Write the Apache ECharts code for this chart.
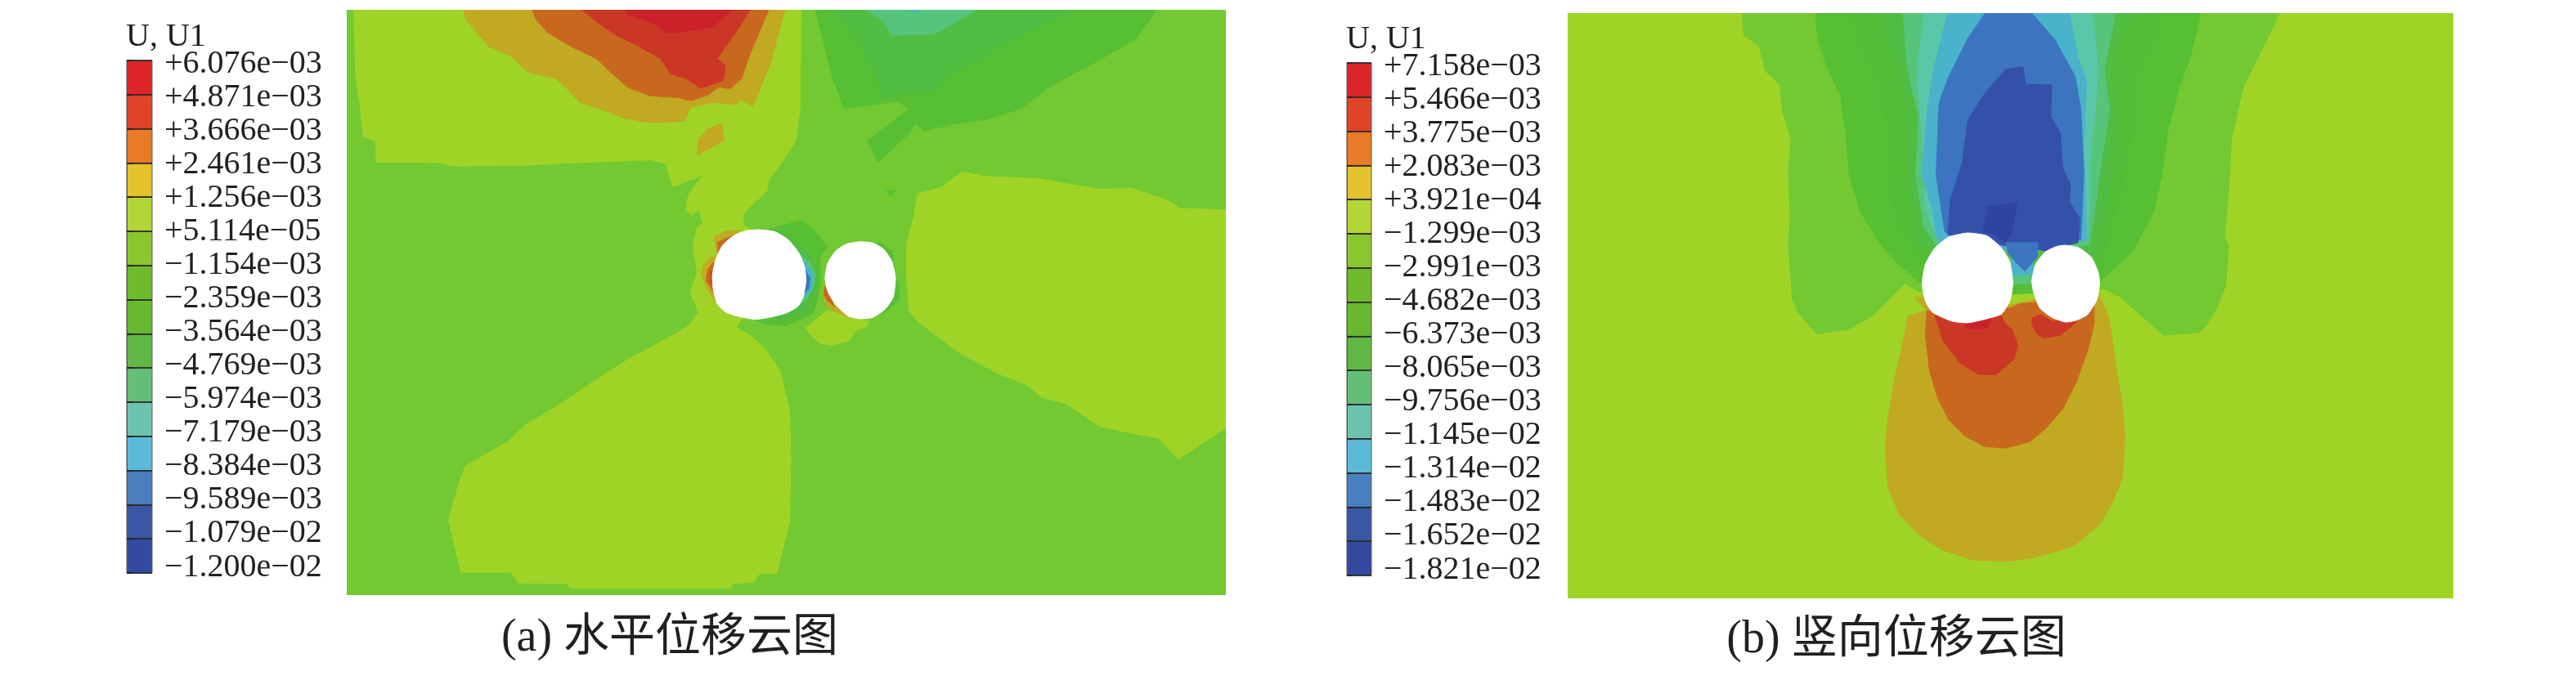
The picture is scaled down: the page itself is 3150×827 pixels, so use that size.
<!DOCTYPE html>
<html>
<head>
<meta charset="utf-8">
<style>html,body{margin:0;padding:0;background:#fff}#c{width:3150px;height:827px}</style>
<script src="https://cdn.jsdelivr.net/npm/echarts@6/dist/echarts.min.js"></script>
</head>
<body>
<div id="c"></div>
<script>
// Legend data
const LEGEND_TITLE = 'U, U1';
const CAPTION_A = '(a) 水平位移云图';
const CAPTION_B = '(b) 竖向位移云图';
const LABELS_A = ['+6.076e−03','+4.871e−03','+3.666e−03','+2.461e−03','+1.256e−03','+5.114e−05','−1.154e−03','−2.359e−03','−3.564e−03','−4.769e−03','−5.974e−03','−7.179e−03','−8.384e−03','−9.589e−03','−1.079e−02','−1.200e−02'];
const LABELS_B = ['+7.158e−03','+5.466e−03','+3.775e−03','+2.083e−03','+3.921e−04','−1.299e−03','−2.991e−03','−4.682e−03','−6.373e−03','−8.065e−03','−9.756e−03','−1.145e−02','−1.314e−02','−1.483e−02','−1.652e−02','−1.821e−02'];
const LEGEND_COLORS = ['#DC2529','#E04328','#E87A28','#E3C22B','#B2D635','#8AC62E','#6EBB2E','#68B92F','#60B745','#65BE78','#6DC3AE','#5BBBD6','#4A7FBE','#3A57A4','#324AA0'];

// Contour band colours
const RED2='#CB222A',RED='#CB3727',ORG='#C8681E',TAN='#C2A922',LIME='#9FD427',G1='#72C932',G2='#56BF34',G3='#50BC42',G4='#56C47A',AQUA='#5AC8A8',CYAN='#4AB3CC',BLUE='#3D74C0',NAVY='#3450AB',NAVY2='#2E44A0',HOLE='#FFFFFF';

// Reading frames of the contour outlines
const a4 = pts => pts.map(([x,y]) => [518.4+0.48*x, 720+y]);
const a3 = pts => pts.map(([x,y]) => [x, y+1080]);
const b7 = pts => pts.map(([x,y]) => [423+0.47*x, 720+y]);

const PANEL_A = [
 [LIME,[[18,36],[805,36],[803,400],[795,520],[770,600],[748,660],[745,700],[715,760],[702,790],[705,830],[720,845],[730,900],[730,1100],[700,1175],[690,1200],[715,1230],[740,1275],[768,1360],[785,1510],[787,1680],[785,1910],[762,2105],[732,2105],[722,2138],[685,2140],[682,2158],[398,2158],[395,2142],[308,2140],[295,2100],[207,2100],[185,1910],[205,1760],[215,1710],[290,1620],[320,1560],[380,1485],[440,1400],[500,1320],[580,1230],[610,1190],[625,1145],[610,1075],[622,1000],[615,900],[622,835],[632,820],[625,770],[612,790],[602,770],[605,730],[615,690],[635,640],[580,685],[572,640],[568,600],[540,587],[400,598],[310,608],[190,610],[170,597],[58,595],[57,520],[35,500],[30,400],[22,280]]],
 [LIME,a3([[850,60],[830,95],[813,125],[820,145],[838,180],[860,187],[890,170],[900,135],[920,120],[925,100],[905,90],[855,60]])],
 [LIME,[[1088,630],[1050,690],[1010,710],[1003,800],[990,900],[990,1000],[995,1140],[1010,1180],[1080,1290],[1150,1370],[1200,1410],[1230,1460],[1270,1480],[1330,1565],[1435,1610],[1468,1685],[1552,1570],[1552,770],[1470,765],[1450,735],[1385,690],[1330,695],[1220,655],[1130,648]]],
 [TAN,[[212,36],[777,36],[750,240],[720,390],[700,365],[690,385],[655,375],[610,395],[600,445],[540,450],[495,435],[465,410],[415,375],[400,340],[375,290],[325,265],[295,205],[255,170],[235,120],[215,70]]],
 [ORG,[[332,36],[748,36],[715,200],[700,290],[680,325],[660,320],[640,350],[610,370],[590,358],[540,352],[500,320],[470,265],[445,215],[400,170],[360,120],[340,75]]],
 [RED,[[420,36],[715,36],[690,120],[657,215],[672,240],[668,295],[628,325],[605,290],[575,270],[558,215],[515,165],[480,130],[445,80]]],
 [RED2,[[497,36],[683,36],[650,100],[605,115],[570,122],[545,85],[500,55]]],
 [TAN,[[665,450],[670,515],[622,570],[625,510],[640,475]]],
 [G2,[[830,36],[1430,36],[1395,140],[1330,220],[1240,320],[1190,400],[1130,438],[1075,455],[1020,480],[1005,450],[1000,480],[940,595],[922,515],[995,400],[975,372],[880,398],[860,280],[845,160]]],
 [G3,[[860,36],[1290,36],[1230,90],[1130,200],[1060,280],[1040,340],[1000,335],[950,355],[930,250],[895,120]]],
 [G4,[[920,36],[1115,36],[1040,125],[965,130],[950,80]]],
 [CYAN,[[995,36],[1012,36],[1005,44]]],
 [G2,[[955,700],[972,700],[962,722]]],
 [G2,a4([[470,125],[540,105],[600,90],[640,120],[695,185],[665,225],[670,300],[660,370],[640,430],[600,450],[540,475],[470,470],[430,455],[500,400],[560,300],[540,200]])],
 [G2,a4([[880,165],[930,200],[945,300],[958,330],[955,380],[920,415],[880,435],[870,300]])],
 [G3,a4([[550,160],[600,190],[640,230],[655,290],[650,340],[620,410],[580,440],[500,455],[560,300]])],
 [G4,a4([[590,210],[630,245],[650,290],[640,340],[615,380],[590,400],[610,300]])],
 [CYAN,a4([[600,230],[640,280],[635,340],[612,370],[610,300]])],
 [BLUE,a4([[612,270],[630,300],[625,340],[610,355]])],
 [TAN,a4([[280,150],[320,128],[370,125],[300,220],[265,225],[240,250],[232,285],[250,335],[285,390],[300,300]])],
 [ORG,a4([[290,170],[345,145],[310,190],[295,210]])],
 [ORG,a4([[255,270],[278,240],[280,360],[250,310]])],
 [RED,a4([[266,280],[275,270],[275,325],[268,320]])],
 [TAN,a4([[683,320],[700,330],[765,442],[730,428],[695,405],[678,370]])],
 [ORG,a4([[685,330],[695,350],[720,405],[695,385],[680,360]])],
 [HOLE,a4([[443,123],[500,130],[550,160],[590,210],[610,260],[615,310],[605,370],[585,405],[540,430],[480,445],[430,452],[370,442],[320,425],[290,395],[275,340],[272,290],[285,230],[310,180],[350,145],[395,127]])],
 [HOLE,a4([[814,167],[860,172],[900,195],[930,240],[943,300],[935,370],[905,415],[860,445],[814,450],[770,440],[725,400],[695,350],[685,300],[695,245],[725,200],[765,175]])]
];

const PANEL_B = [
 [G1,[[325,48],[1253,48],[1225,170],[1190,320],[1170,510],[1165,700],[1158,870],[1165,900],[1160,1050],[1145,1130],[1128,1190],b7([[1500,470]])[0],b7([[1470,500]])[0],b7([[1340,510]])[0],b7([[1260,440]])[0],b7([[1180,370]])[0],b7([[1120,340]])[0],b7([[440,350]])[0],b7([[390,320]])[0],b7([[330,380]])[0],b7([[270,440]])[0],b7([[180,490]])[0],b7([[65,505]])[0],b7([[0,430]])[0],[412,1100],[405,900],[408,800],[405,620],[410,510],[395,410],[390,310],[365,260],[355,170],[328,130]]],
 [G2,[[452,48],[1117,48],[1100,200],[1080,320],[1060,480],[1050,640],[1035,780],[1000,920],[960,1000],[945,1030],[800,1040],[635,1040],[600,980],[565,900],[530,780],[510,640],[505,500],[495,350],[475,260],[462,190],[455,130]]],
 ['#53BD38',[[515,48],[1050,48],[1040,140],[1005,290],[1000,480],[985,640],[980,700],[960,860],[945,960],[800,1000],[645,990],[625,920],[590,800],[575,640],[578,500],[560,300],[530,180]]],
 [G3,[[563,48],[1003,48],[975,140],[965,260],[970,450],[965,640],[945,860],[935,940],[800,960],[655,920],[618,870],[620,780],[612,640],[612,480],[600,280],[570,120]]],
 [G4,[[603,48],[970,48],[965,100],[950,260],[960,400],[945,600],[935,760],[925,900],[800,930],[660,900],[640,840],[635,780],[625,640],[630,430],[610,250]]],
 [AQUA,[[640,48],[930,48],[935,150],[940,260],[935,400],[925,600],[925,760],[920,880],[800,920],[665,890],[655,840],[640,760],[640,640],[635,480],[628,300],[630,200]]],
 [CYAN,[[680,48],[890,48],[895,100],[905,210],[920,300],[915,540],[918,700],[920,880],[800,920],[668,900],[660,860],[655,780],[635,640],[645,400],[655,260]]],
 [BLUE,[[745,48],[825,48],[865,145],[900,280],[910,400],[915,640],[910,880],[800,900],[690,870],[675,850],[660,640],[665,380],[680,290],[715,140]]],
 [NAVY,[[810,245],[815,310],[860,312],[858,425],[875,490],[878,610],[892,680],[890,740],[908,800],[905,890],[850,920],[700,880],[680,860],[685,730],[705,600],[715,440],[745,340],[780,255]]],
 [NAVY2,[[750,760],[800,745],[790,860],[780,890],[760,860],[740,850]]],
 [LIME,b7([[785,360],[860,355],[860,385],[785,390]])],
 [G2,b7([[785,325],[860,320],[860,355],[785,360]])],
 [G4,b7([[785,290],[860,285],[860,320],[785,325]])],
 [CYAN,b7([[780,230],[860,230],[860,285],[785,290]])],
 [BLUE,b7([[760,170],[880,170],[875,225],[830,275],[800,245],[770,210]])],
 [TAN,b7([[425,370],[470,420],[400,440],[395,480],[350,680],[325,830],[318,930],[328,1070],[370,1170],[450,1250],[530,1300],[640,1335],[760,1340],[850,1330],[960,1300],[1010,1285],[1100,1210],[1150,1130],[1190,1030],[1198,880],[1190,780],[1165,620],[1140,450],[1110,375],[1085,350],[1000,380],[860,380],[780,400]])],
 [ORG,b7([[470,420],[465,510],[480,640],[510,740],[550,820],[610,880],[680,918],[760,925],[850,900],[910,850],[970,780],[1020,680],[1060,570],[1085,470],[1085,400],[870,390],[810,395],[780,410]])],
 [RED,b7([[500,440],[530,530],[590,610],[660,655],[725,655],[790,600],[805,545],[790,510],[785,490],[760,470],[745,440],[600,450]])],
 [RED2,b7([[600,465],[625,488],[690,485],[710,450]])],
 [RED,b7([[860,445],[855,465],[870,500],[900,522],[960,510],[1000,480],[1030,450],[930,460],[890,435]])],
 [HOLE,b7([[620,135],[690,145],[740,185],[775,240],[786,320],[775,385],[745,432],[690,450],[620,465],[560,458],[490,425],[465,385],[453,320],[465,250],[500,190],[550,150]])],
 [HOLE,b7([[980,180],[1030,190],[1075,225],[1100,280],[1105,320],[1095,380],[1060,435],[1020,455],[980,462],[930,445],[885,410],[862,350],[856,310],[870,250],[905,205],[945,185]])]
];

const SERIF = '"Liberation Serif","Noto Sans CJK SC",serif';
const INK = '#231F20';

function contourSeries(polys, xi, yi){
  return {
    type:'custom', xAxisIndex:xi, yAxisIndex:yi, silent:true, animation:false, clip:true,
    data:polys.map(p=>p[1][0]),
    renderItem:(params,api)=>{
      const [fill,pts]=polys[params.dataIndex];
      return {type:'polygon',shape:{points:pts.map(p=>api.coord(p)),smooth:fill===HOLE?0.18:0},style:{fill,stroke:fill,lineWidth:1}};
    }
  };
}
function legendSeries(xi, yi){
  return {
    type:'custom', xAxisIndex:xi, yAxisIndex:yi, silent:true, animation:false, z:1,
    data:LEGEND_COLORS.map((c,i)=>[0,15-i]),
    renderItem:(params,api)=>{
      const top=api.coord([0,15-params.dataIndex]);
      const bot=api.coord([1,14-params.dataIndex]);
      return {type:'rect',shape:{x:top[0],y:top[1],width:bot[0]-top[0],height:bot[1]-top[1]},style:{fill:LEGEND_COLORS[params.dataIndex],stroke:'#5A5A5A',lineWidth:1}};
    }
  };
}
function legendTickAxis(grid){
  return {gridIndex:grid,type:'value',min:0,max:15,interval:1,position:'right',z:4,
    axisLine:{show:true,lineStyle:{color:'#555',width:1}},
    axisTick:{show:true,length:7,lineStyle:{color:INK,width:1.5}},
    axisLabel:{show:false},
    splitLine:{show:true,lineStyle:{color:INK,width:1.5}}};
}
function legendLabelAxis(grid,labels){
  return {gridIndex:grid,type:'value',min:-0.17,max:15.11,position:'right',
    axisLine:{show:false},axisTick:{show:false},splitLine:{show:false},
    axisLabel:{show:true,customValues:labels.map((l,i)=>15-i),margin:15,align:'left',
      showMinLabel:true,showMaxLabel:true,hideOverlap:false,
      fontFamily:SERIF,fontSize:40,color:INK,
      formatter:v=>labels[15-Math.round(v)]}};
}

const chart = echarts.init(document.getElementById('c'),null,{renderer:'canvas'});
chart.setOption({
  backgroundColor:'#fff',
  animation:false,
  title:[
    {text:LEGEND_TITLE,left:149,top:21,textStyle:{fontFamily:SERIF,fontSize:40,fontWeight:'normal',color:INK}},
    {text:LEGEND_TITLE,left:1641,top:24,textStyle:{fontFamily:SERIF,fontSize:40,fontWeight:'normal',color:INK}},
    {text:CAPTION_A,left:814,top:748,textAlign:'center',textStyle:{fontFamily:SERIF,fontSize:56,fontWeight:'normal',color:INK}},
    {text:CAPTION_B,left:2314,top:750,textAlign:'center',textStyle:{fontFamily:SERIF,fontSize:56,fontWeight:'normal',color:INK}}
  ],
  grid:[
    {left:424,top:12,width:1075,height:716,backgroundColor:G1,show:true,borderWidth:0},
    {left:1917,top:16,width:1083,height:716,backgroundColor:LIME,show:true,borderWidth:0},
    {left:155,top:74,width:31,height:627},
    {left:1647,top:77,width:30,height:627}
  ],
  xAxis:[
    {gridIndex:0,type:'value',min:6,max:1552,show:false},
    {gridIndex:1,type:'value',min:24,max:1553,show:false},
    {gridIndex:2,type:'value',min:0,max:1,show:false},
    {gridIndex:3,type:'value',min:0,max:1,show:false}
  ],
  yAxis:[
    {gridIndex:0,type:'value',min:36,max:2184,inverse:true,show:false},
    {gridIndex:1,type:'value',min:48,max:2196,inverse:true,show:false},
    legendTickAxis(2),
    legendTickAxis(3),
    legendLabelAxis(2,LABELS_A),
    legendLabelAxis(3,LABELS_B)
  ],
  series:[
    contourSeries(PANEL_A,0,0),
    contourSeries(PANEL_B,1,1),
    legendSeries(2,2),
    legendSeries(3,3)
  ]
});
</script>
</body>
</html>
